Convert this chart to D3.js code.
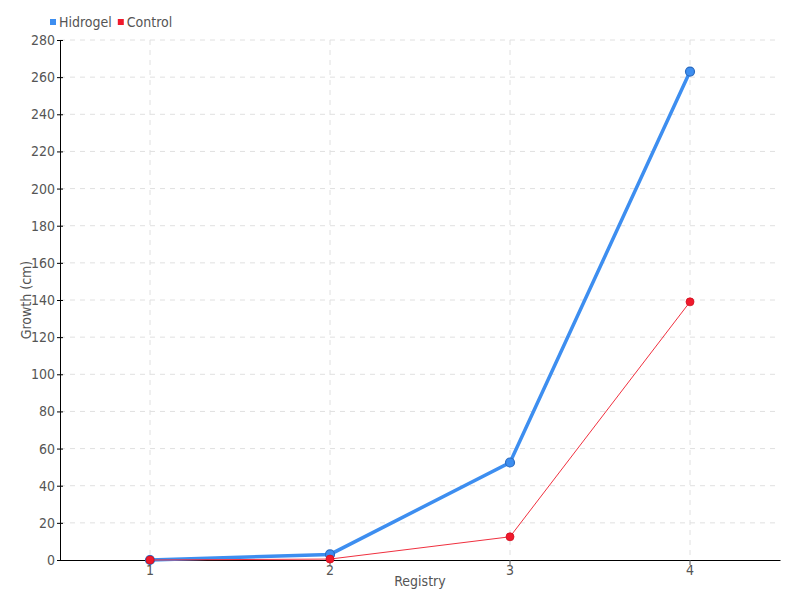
<!DOCTYPE html>
<html><head><meta charset="utf-8">
<script src="https://cdn.jsdelivr.net/npm/d3@7"></script>
<style>
body{margin:0;background:#fff;}
text{font-family:"Liberation Sans Narrow","DejaVu Sans Condensed",sans-serif;fill:#555;}
</style></head>
<body><svg id="c" width="800" height="600"></svg>
<script>
const categories = ["1","2","3","4"];
const hidrogel = [0, 3, 52.5, 263];
const control = [0, 0.5, 12.5, 139];
const yTicks = d3.range(0, 281, 20);
const seriesNames = ["Hidrogel","Control"];
const colors = ["#3d8ef0","#f0192c"];

const svg = d3.select("#c");
const m = {l:60, r:20, t:40, b:40};
const W = 800, H = 600;
const x = d3.scaleBand().domain(categories).range([m.l, W-m.r]);
const y = d3.scaleLinear().domain([0,280]).range([H-m.b, m.t]);
const cx = d => x(d) + x.bandwidth()/2;

// grid
const g = svg.append("g");
g.selectAll(".hg").data(yTicks.filter(d=>d>0)).join("line")
 .attr("x1",m.l).attr("x2",W-m.r).attr("y1",d=>y(d)).attr("y2",d=>y(d))
 .attr("stroke","#e0e0e0").attr("stroke-dasharray","5,5");
g.selectAll(".vg").data(categories).join("line")
 .attr("x1",cx).attr("x2",cx).attr("y1",m.t).attr("y2",H-m.b)
 .attr("stroke","#e0e0e0").attr("stroke-dasharray","5,5");

// axes
const ya = svg.append("g").attr("transform",`translate(${m.l},0)`)
 .call(d3.axisLeft(y).tickValues(yTicks).tickSize(3).tickSizeOuter(0));
ya.select(".domain").attr("stroke","#000");
ya.selectAll(".tick line").attr("x2",3).attr("x1",-3).attr("stroke","#000");
ya.selectAll("text").attr("font-size",14).attr("x",-5);

const xa = svg.append("g").attr("transform",`translate(0,${H-m.b})`)
 .call(d3.axisBottom(x).tickSize(5).tickSizeOuter(0));
xa.select(".domain").attr("stroke","#000");
xa.selectAll(".tick line").attr("stroke","#555");
xa.selectAll("text").attr("font-size",14).attr("dy","0.5em");

svg.append("text").attr("x",(m.l+W-m.r)/2).attr("y",586).attr("text-anchor","middle")
 .attr("font-size",14).text("Registry");
svg.append("text").attr("transform",`translate(31,${(m.t+H-m.b)/2}) rotate(-90)`)
 .attr("text-anchor","middle").attr("font-size",14).text("Growth (cm)");

// lines
const line = d3.line().x((d,i)=>cx(categories[i])).y(d=>y(d));
svg.append("path").datum(hidrogel).attr("d",line).attr("fill","none")
 .attr("stroke",colors[0]).attr("stroke-width",3.5);
svg.selectAll(".hp").data(hidrogel).join("circle")
 .attr("cx",(d,i)=>cx(categories[i])).attr("cy",d=>y(d)).attr("r",4.5)
 .attr("fill",colors[0]).attr("stroke","#2a6bc0").attr("stroke-width",1.2);
svg.append("path").datum(control).attr("d",line).attr("fill","none")
 .attr("stroke","#f0303f").attr("stroke-width",1);
svg.selectAll(".cp").data(control).join("circle")
 .attr("cx",(d,i)=>cx(categories[i])).attr("cy",d=>y(d)).attr("r",4)
 .attr("fill",colors[1]).attr("stroke","#d01020").attr("stroke-width",0.8);

// legend
const lg = svg.append("g");
let lx = 50;
seriesNames.forEach((n,i)=>{
  lg.append("rect").attr("x",lx).attr("y",19).attr("width",6).attr("height",6).attr("fill",colors[i]);
  const t = lg.append("text").attr("x",lx+9).attr("y",27).attr("font-size",14).text(n);
  lx += 9 + t.node().getComputedTextLength() + 6;
});
</script></body></html>
